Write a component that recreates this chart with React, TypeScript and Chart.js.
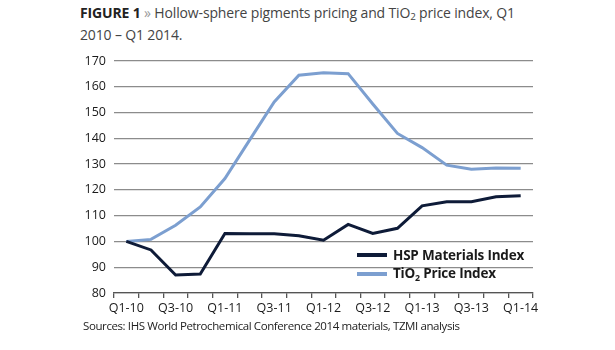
import React, { useEffect, useRef } from "react";
import { Chart, registerables } from "chart.js";

Chart.register(...registerables);

const quarters = [
  "Q1-10", "Q2-10", "Q3-10", "Q4-10",
  "Q1-11", "Q2-11", "Q3-11", "Q4-11",
  "Q1-12", "Q2-12", "Q3-12", "Q4-12",
  "Q1-13", "Q2-13", "Q3-13", "Q4-13",
  "Q1-14",
];
const hspValues = [100, 96.7, 87.0, 87.4, 103.1, 103.0, 103.0, 102.2, 100.5, 106.6, 103.1, 105.1, 113.8, 115.4, 115.4, 117.3, 117.7];
const tio2Values = [100, 100.8, 106.3, 113.4, 124.4, 139.3, 154.1, 164.5, 165.4, 165.1, 153.3, 141.9, 136.4, 129.6, 128.0, 128.5, 128.4];
const seriesNames = ["HSP Materials Index", "TiO₂ Price Index"];
const seriesColors = ["#0e1b38", "#7c9fd0"];
const yMin = 80;
const yMax = 170;
const yStep = 10;

const FONT = "'Open Sans', 'DejaVu Sans', sans-serif";

export default function App() {
  const canvasRef = useRef<HTMLCanvasElement | null>(null);

  useEffect(() => {
    const canvas = canvasRef.current;
    if (!canvas) return;
    const chart = new Chart(canvas, {
      type: "line",
      data: {
        labels: quarters,
        datasets: [
          {
            label: seriesNames[0],
            data: hspValues,
            borderColor: seriesColors[0],
            backgroundColor: seriesColors[0],
            borderWidth: 3,
            pointRadius: 0,
            tension: 0,
          },
          {
            label: seriesNames[1],
            data: tio2Values,
            borderColor: seriesColors[1],
            backgroundColor: seriesColors[1],
            borderWidth: 3,
            pointRadius: 0,
            tension: 0,
          },
        ],
      },
      options: {
        responsive: false,
        animation: false,
        devicePixelRatio: 1,
        layout: { padding: { left: 0, top: 61, right: 82, bottom: 27 } },
        plugins: {
          legend: { display: false },
          tooltip: { enabled: false },
          title: { display: false },
        },
        scales: {
          x: {
            type: "category",
            offset: true,
            afterFit: (s: any) => {
              s.height = 30;
            },
            border: { display: true, color: "#555", width: 1.3 },
            grid: {
              display: true,
              offset: true,
              drawOnChartArea: false,
              drawTicks: true,
              tickLength: 5,
              color: "#555",
              lineWidth: 1.3,
            },
            ticks: {
              autoSkip: false,
              maxRotation: 0,
              padding: 3,
              color: "#1a1a1a",
              font: { family: FONT, size: 12.5 },
              callback: function (_v: any, i: number) {
                return i % 2 === 0 ? quarters[i] : "";
              },
            },
          },
          y: {
            min: yMin,
            max: yMax,
            afterFit: (s: any) => {
              s.width = 114;
            },
            border: { display: false },
            grid: {
              color: "#8c8c8c",
              lineWidth: 1.3,
              drawTicks: false,
            },
            ticks: {
              stepSize: yStep,
              padding: 8,
              color: "#1a1a1a",
              font: { family: FONT, size: 12.5 },
            },
          },
        },
      },
    });
    return () => chart.destroy();
  }, []);

  const legendRow = (i: number, top: number) => (
    <div
      key={i}
      style={{
        position: "absolute",
        left: 357,
        top: top,
        height: 20,
        display: "flex",
        alignItems: "center",
      }}
    >
      <div style={{ width: 30, height: 3.5, background: seriesColors[i], marginRight: 6 }} />
      <span
        style={{
          fontFamily: FONT,
          fontWeight: 700,
          fontSize: 13.5,
          letterSpacing: "-0.2px",
          color: "#1a1a1a",
          whiteSpace: "nowrap",
        }}
      >
        {i === 0 ? (
          seriesNames[0]
        ) : (
          <>
            TiO<sub style={{ fontSize: "0.65em", verticalAlign: "-0.3em" }}>2</sub> Price Index
          </>
        )}
      </span>
    </div>
  );

  return (
    <div
      style={{
        position: "fixed",
        left: 0,
        top: 0,
        width: 615,
        height: 350,
        background: "#fff",
        overflow: "hidden",
      }}
    >
      <div
        style={{
          position: "absolute",
          left: 80,
          top: 4,
          fontFamily: FONT,
          fontSize: 14,
          lineHeight: "18px",
          color: "#444",
          whiteSpace: "nowrap",
          letterSpacing: "-0.15px",
        }}
      >
        <b style={{ color: "#222" }}>FIGURE 1</b> <span style={{ color: "#999" }}>»</span> Hollow-sphere pigments pricing and TiO
        <sub style={{ fontSize: "0.7em", verticalAlign: "-0.25em" }}>2</sub> price index, Q1
        <br />
        2010 – Q1 2014.
      </div>
      <canvas ref={canvasRef} width={615} height={350} style={{ position: "absolute", left: 0, top: 0 }} />
      {legendRow(0, 245)}
      {legendRow(1, 264)}
      <div
        style={{
          position: "absolute",
          left: 83,
          top: 318,
          fontFamily: FONT,
          fontSize: 11.5,
          color: "#222",
          whiteSpace: "nowrap",
          letterSpacing: "-0.4px",
        }}
      >
        Sources: IHS World Petrochemical Conference 2014 materials, TZMI analysis
      </div>
    </div>
  );
}
